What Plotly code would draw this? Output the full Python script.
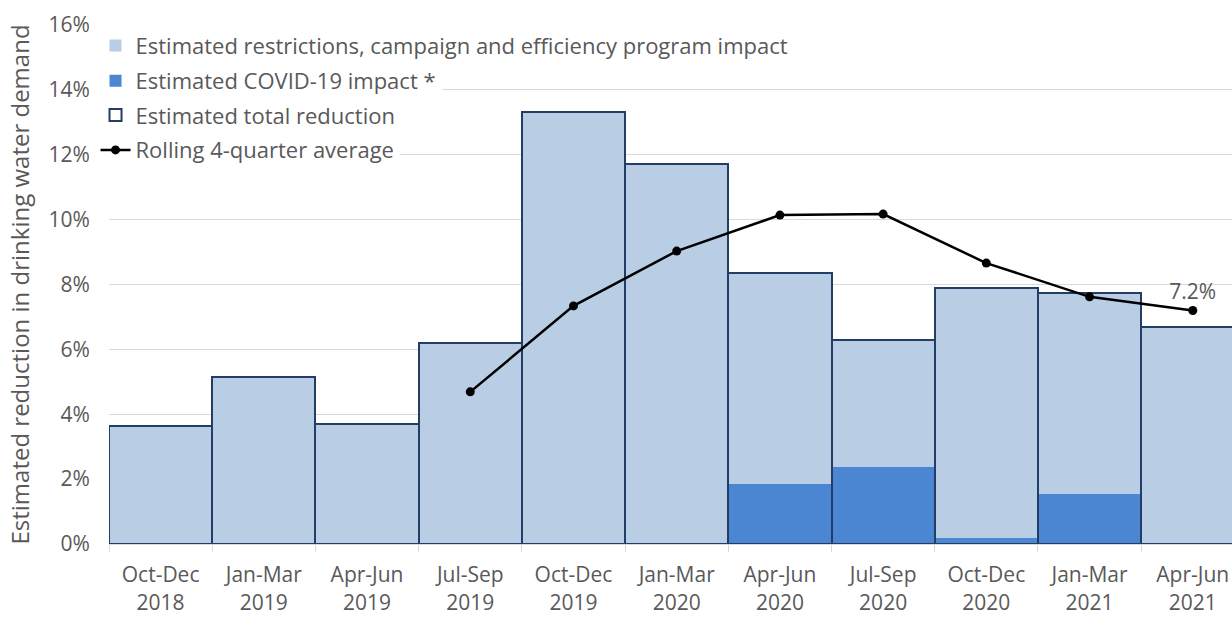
import plotly.graph_objects as go

quarters = ["Oct-Dec<br>2018", "Jan-Mar<br>2019", "Apr-Jun<br>2019", "Jul-Sep<br>2019",
            "Oct-Dec<br>2019", "Jan-Mar<br>2020", "Apr-Jun<br>2020", "Jul-Sep<br>2020",
            "Oct-Dec<br>2020", "Jan-Mar<br>2021", "Apr-Jun<br>2021"]
total_reduction = [3.65, 5.14, 3.69, 6.2, 13.31, 11.73, 8.37, 6.29, 7.9, 7.74, 6.69]
covid_impact = [0, 0, 0, 0, 0, 0, 1.85, 2.37, 0.18, 1.54, 0]
restrictions_impact = [t - c for t, c in zip(total_reduction, covid_impact)]
rolling_avg = [None, None, None, 4.69, 7.34, 9.03, 10.14, 10.17, 8.66, 7.62, 7.2]
rolling_labels = ["" for _ in rolling_avg]
rolling_labels[-1] = "7.2%"

TXT = "#595959"
FONT = "Open Sans"
LIGHT = "#B9CDE4"
DARK = "#4A86D1"
EDGE = "#223D66"

fig = go.Figure()
fig.add_trace(go.Bar(
    x=quarters, y=restrictions_impact, base=covid_impact,
    name="Estimated restrictions, campaign and efficiency program impact",
    marker=dict(color=LIGHT, line=dict(width=0)), width=1, legend="legend"))
fig.add_trace(go.Bar(
    x=quarters, y=covid_impact, name="Estimated COVID-19 impact *",
    marker=dict(color=DARK, line=dict(width=0)), width=1, legend="legend2"))
fig.add_trace(go.Bar(
    x=quarters, y=total_reduction, name="Estimated total reduction",
    marker=dict(color="rgba(0,0,0,0)", line=dict(color=EDGE, width=2)), width=1,
    legend="legend3"))
fig.add_trace(go.Scatter(
    x=quarters, y=rolling_avg, name="Rolling 4-quarter average",
    mode="lines+markers+text", text=rolling_labels, textposition="top center",
    textfont=dict(size=21, color=TXT, family=FONT),
    line=dict(color="black", width=2.5), marker=dict(color="black", size=9),
    legend="legend4", cliponaxis=False))

leg = dict(x=-0.012, xanchor="left", yanchor="middle", bgcolor="white",
           font=dict(size=22, color=TXT, family=FONT), borderwidth=0,
           itemwidth=30, tracegroupgap=0, visible=True)
fig.update_layout(
    width=1232, height=617,
    margin=dict(l=109, r=0, t=25, b=73),
    paper_bgcolor="white", plot_bgcolor="white",
    barmode="overlay", bargap=0, showlegend=True,
    font=dict(family=FONT, color=TXT),
    legend=dict(leg, y=0.96),
    legend2=dict(leg, y=0.892),
    legend3=dict(leg, y=0.826),
    legend4=dict(leg, y=0.759),
    xaxis=dict(range=[-0.5, 10.38], tickfont=dict(size=21, color=TXT, family=FONT),
               showgrid=False, showline=True, linecolor="#D9D9D9", linewidth=1,
               tickson="boundaries", ticks="outside", ticklen=7, tickcolor="#D9D9D9",
               ticklabelstandoff=12),
    yaxis=dict(range=[0, 16], dtick=2, ticksuffix="%",
               tickfont=dict(size=21, color=TXT, family=FONT),
               showgrid=True, gridcolor="#D9D9D9", gridwidth=1, zeroline=False,
               ticks="outside", ticklen=14, tickcolor="rgba(0,0,0,0)",
               title=dict(text="Estimated reduction in drinking water demand",
                          font=dict(size=24, color=TXT, family=FONT), standoff=12)),
)
fig.write_html("out.html")
